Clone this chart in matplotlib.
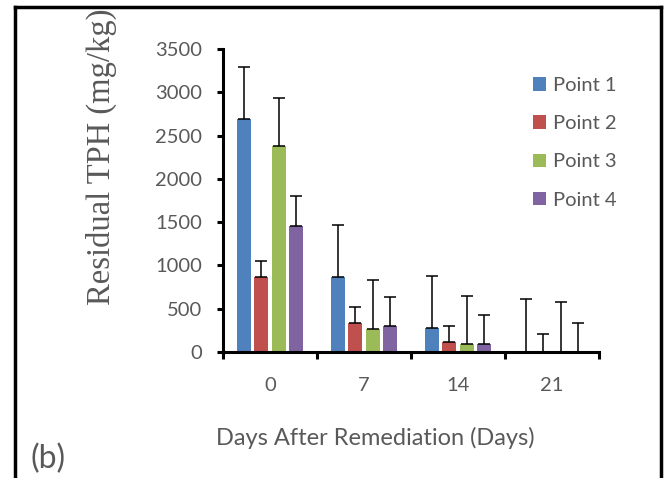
import matplotlib
matplotlib.use("Agg")
import matplotlib.pyplot as plt
from matplotlib.lines import Line2D
from matplotlib.patches import Patch
import numpy as np

# data
days = ["0", "7", "14", "21"]
series_names = ["Point 1", "Point 2", "Point 3", "Point 4"]
point1 = [2690, 865, 275, 0]
point2 = [865, 330, 110, 0]
point3 = [2375, 270, 95, 0]
point4 = [1460, 300, 95, 0]
point1_err = [605, 605, 600, 610]
point2_err = [190, 185, 185, 205]
point3_err = [560, 560, 555, 580]
point4_err = [345, 330, 335, 340]
colors = ["#4F81BD", "#C0504D", "#9BBB59", "#8064A2"]
yticks = [0, 500, 1000, 1500, 2000, 2500, 3000, 3500]

values = [point1, point2, point3, point4]
errors = [point1_err, point2_err, point3_err, point4_err]

W, H = 670, 478
gray = "#595959"
sans = ["Lato", "DejaVu Sans"]

fig = plt.figure(figsize=(W / 100, H / 100), dpi=100)
ax = fig.add_axes([223 / W, 1 - 352 / H, (599 - 223) / W, (352 - 49) / H])

centers = np.arange(len(days)) + 0.5
step = 0.184
width = 0.15
for i in range(len(values)):
    xs = centers + (i - 1.5) * step
    ax.bar(xs, values[i], width=width, color=colors[i], label=series_names[i], zorder=2)
    ax.errorbar(xs, values[i], yerr=[np.zeros(len(days)), errors[i]], fmt="none",
                ecolor="black", elinewidth=1.1, capsize=4.5, capthick=1.1, zorder=3)

ax.set_xlim(0, len(days))
ax.set_ylim(0, 3500)
ax.set_yticks(yticks)
ax.set_yticklabels([str(t) for t in yticks], fontfamily=sans, fontsize=14.5, color=gray)
ax.set_xticks(centers)
ax.set_xticklabels(days, fontfamily=sans, fontsize=14.5, color=gray)
ax.set_xticks(np.arange(len(days) + 1), minor=True)
ax.tick_params(axis="x", which="major", length=0, pad=18)
ax.tick_params(axis="x", which="minor", length=5, width=2.2, direction="out")
ax.tick_params(axis="y", length=4, width=2.2, direction="out", pad=11)

for side in ["top", "right"]:
    ax.spines[side].set_visible(False)
for side in ["left", "bottom"]:
    ax.spines[side].set_linewidth(2.2)

ax.set_ylabel("Residual TPH (mg/kg)", fontfamily=["Liberation Serif", "DejaVu Serif"],
              fontsize=23.5, color=gray)
ax.yaxis.set_label_coords((117 - 223) / (599 - 223), 0.645)

fig.text(375 / W, 1 - 438 / H, "Days After Remediation (Days)", ha="center", va="center",
         fontfamily=sans, fontsize=17, color=gray)
fig.text(48 / W, 1 - 459 / H, "(b)", ha="center", va="center",
         fontfamily=sans, fontsize=23, color=gray)

handles = [Patch(facecolor=c, label=n) for c, n in zip(colors, series_names)]
fig.legend(handles=handles, loc="upper left", bbox_to_anchor=(515 / W, 1 - 59 / H),
           frameon=False, prop={"family": sans, "size": 14.5}, labelcolor=gray,
           handlelength=0.65, handleheight=0.65, handletextpad=0.35, labelspacing=1.05)

# figure border (left, top, right)
for xy in [([15 / W, 15 / W], [0, 1 - 7 / H]),
           ([15 / W, 661 / W], [1 - 7 / H, 1 - 7 / H]),
           ([661 / W, 661 / W], [1 - 7 / H, 0])]:
    fig.add_artist(Line2D(xy[0], xy[1], color="black", linewidth=2.5,
                          transform=fig.transFigure))

plt.savefig("out.png", dpi=100)
